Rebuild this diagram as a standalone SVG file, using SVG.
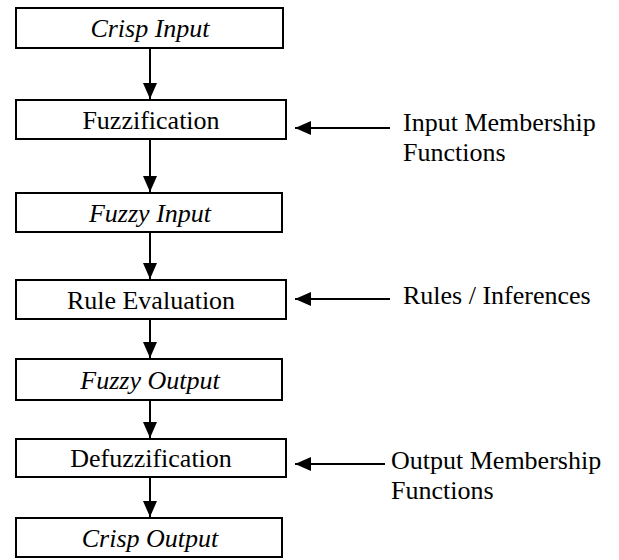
<svg xmlns="http://www.w3.org/2000/svg" width="619" height="560" viewBox="0 0 619 560">
  <style>
    .box { fill: #fff; stroke: #000; stroke-width: 2; }
    .lbl { font-family: "Liberation Serif", "Times New Roman", serif; font-size: 26px; fill: #000; }
    .mid { text-anchor: middle; }
    .it { font-style: italic; }
    .link { stroke: #000; stroke-width: 2; fill: none; marker-end: url(#head); }
  </style>
  <defs>
    <marker id="head" markerUnits="userSpaceOnUse" markerWidth="16" markerHeight="14" refX="16" refY="7" orient="auto">
      <path d="M0,0 L16,7 L0,14 z" fill="#000"/>
    </marker>
  </defs>
  <rect width="619" height="560" fill="#fff"/>

  <!-- connectors -->
  <g id="connectors">
    <line class="link" x1="150" y1="49" x2="150" y2="99"/>
    <line class="link" x1="150" y1="140" x2="150" y2="192"/>
    <line class="link" x1="150" y1="233" x2="150" y2="279"/>
    <line class="link" x1="150" y1="320" x2="150" y2="358"/>
    <line class="link" x1="150" y1="401" x2="150" y2="438"/>
    <line class="link" x1="150" y1="478" x2="150" y2="517"/>
    <line class="link" x1="390" y1="128" x2="295" y2="128"/>
    <line class="link" x1="390" y1="299" x2="295" y2="299"/>
    <line class="link" x1="385" y1="464" x2="295" y2="464"/>
  </g>

  <!-- process stages -->
  <g id="crisp-input">
    <rect class="box" x="16" y="8" width="267" height="40"/>
    <text class="lbl mid it" x="150" y="37">Crisp Input</text>
  </g>
  <g id="fuzzification">
    <rect class="box" x="16" y="100" width="270" height="39"/>
    <text class="lbl mid" x="151" y="129">Fuzzification</text>
  </g>
  <g id="fuzzy-input">
    <rect class="box" x="16" y="193" width="266" height="39"/>
    <text class="lbl mid it" x="150" y="222">Fuzzy Input</text>
  </g>
  <g id="rule-evaluation">
    <rect class="box" x="16" y="280" width="270" height="39"/>
    <text class="lbl mid" x="151" y="309">Rule Evaluation</text>
  </g>
  <g id="fuzzy-output">
    <rect class="box" x="16" y="359" width="266" height="41"/>
    <text class="lbl mid it" x="150" y="389">Fuzzy Output</text>
  </g>
  <g id="defuzzification">
    <rect class="box" x="16" y="439" width="270" height="38"/>
    <text class="lbl mid" x="151" y="467">Defuzzification</text>
  </g>
  <g id="crisp-output">
    <rect class="box" x="16" y="518" width="266" height="39"/>
    <text class="lbl mid it" x="150" y="547">Crisp Output</text>
  </g>

  <!-- side inputs -->
  <g id="input-mf">
    <text class="lbl" x="403" y="131">Input Membership</text>
    <text class="lbl" x="403" y="161">Functions</text>
  </g>
  <g id="rules">
    <text class="lbl" x="403" y="304">Rules / Inferences</text>
  </g>
  <g id="output-mf">
    <text class="lbl" x="391" y="469">Output Membership</text>
    <text class="lbl" x="391" y="499">Functions</text>
  </g>
</svg>
